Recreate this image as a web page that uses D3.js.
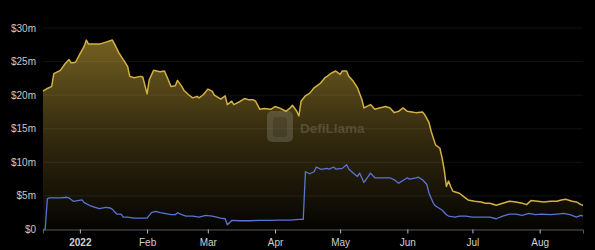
<!DOCTYPE html>
<html><head><meta charset="utf-8">
<script src="https://cdn.jsdelivr.net/npm/d3@7"></script>
<style>html,body{margin:0;padding:0;background:#000;}svg{display:block;}</style>
</head><body><svg id="c" width="595" height="250"></svg>
<script>
const goldDates = ["2021-12-15","2021-12-17","2021-12-19","2021-12-20","2021-12-23","2021-12-25","2021-12-27","2021-12-28","2021-12-30","2022-01-01","2022-01-03","2022-01-04","2022-01-05","2022-01-07","2022-01-10","2022-01-13","2022-01-16","2022-01-17","2022-01-19","2022-01-21","2022-01-23","2022-01-24","2022-01-26","2022-01-29","2022-01-30","2022-02-01","2022-02-02","2022-02-04","2022-02-07","2022-02-09","2022-02-11","2022-02-12","2022-02-14","2022-02-15","2022-02-17","2022-02-18","2022-02-20","2022-02-22","2022-02-24","2022-02-25","2022-02-27","2022-03-01","2022-03-03","2022-03-04","2022-03-07","2022-03-09","2022-03-10","2022-03-12","2022-03-13","2022-03-16","2022-03-18","2022-03-20","2022-03-22","2022-03-23","2022-03-25","2022-03-27","2022-03-30","2022-04-01","2022-04-03","2022-04-06","2022-04-08","2022-04-09","2022-04-11","2022-04-12","2022-04-13","2022-04-15","2022-04-17","2022-04-19","2022-04-22","2022-04-24","2022-04-25","2022-04-27","2022-04-29","2022-05-01","2022-05-02","2022-05-04","2022-05-05","2022-05-07","2022-05-09","2022-05-11","2022-05-12","2022-05-15","2022-05-17","2022-05-19","2022-05-22","2022-05-24","2022-05-26","2022-05-28","2022-05-30","2022-06-01","2022-06-03","2022-06-05","2022-06-08","2022-06-09","2022-06-11","2022-06-12","2022-06-14","2022-06-16","2022-06-17","2022-06-18","2022-06-19","2022-06-20","2022-06-21","2022-06-22","2022-06-25","2022-06-27","2022-06-29","2022-07-02","2022-07-05","2022-07-07","2022-07-09","2022-07-12","2022-07-15","2022-07-18","2022-07-21","2022-07-24","2022-07-26","2022-07-28","2022-07-31","2022-08-03","2022-08-06","2022-08-09","2022-08-11","2022-08-13","2022-08-16","2022-08-18","2022-08-20","2022-08-21"];
const goldValues = [20.6,21.0,21.3,23.2,23.7,24.6,25.3,24.8,24.9,26.1,27.3,28.2,27.6,27.6,27.6,27.9,28.2,27.6,26.3,25.3,24.3,22.8,22.6,22.8,22.7,20.2,22.3,23.7,23.5,23.6,22.1,21.3,21.4,22.2,21.3,20.7,20.1,19.6,19.8,19.6,20.1,20.9,20.6,20.0,19.4,19.9,18.6,19.1,18.6,19.1,19.5,19.3,19.3,19.1,17.9,18.0,17.9,18.3,18.1,17.6,18.1,18.5,17.6,16.9,19.1,19.9,20.3,21.1,21.8,22.6,22.8,23.3,23.6,23.1,23.6,23.6,22.8,22.1,21.1,19.4,18.1,18.6,17.9,18.1,18.3,18.1,17.4,17.6,18.1,17.6,17.5,17.4,17.5,17.1,15.9,14.6,12.6,12.1,10.7,8.9,6.4,7.2,6.4,5.7,5.4,4.9,4.4,4.2,4.1,3.9,3.9,3.6,3.9,4.2,4.1,3.9,3.7,4.3,4.2,4.1,4.2,4.2,4.4,4.5,4.2,4.1,3.7,3.6];

const blueDates = ["2021-12-15","2021-12-16","2021-12-17","2021-12-18","2021-12-23","2021-12-26","2021-12-27","2021-12-29","2021-12-31","2022-01-02","2022-01-03","2022-01-06","2022-01-08","2022-01-10","2022-01-13","2022-01-15","2022-01-16","2022-01-18","2022-01-20","2022-01-21","2022-01-23","2022-01-26","2022-01-29","2022-02-01","2022-02-03","2022-02-05","2022-02-07","2022-02-09","2022-02-12","2022-02-14","2022-02-15","2022-02-17","2022-02-19","2022-02-22","2022-02-25","2022-02-28","2022-03-03","2022-03-07","2022-03-09","2022-03-10","2022-03-12","2022-03-16","2022-03-20","2022-03-25","2022-03-30","2022-04-03","2022-04-08","2022-04-12","2022-04-14","2022-04-15","2022-04-17","2022-04-19","2022-04-20","2022-04-22","2022-04-23","2022-04-25","2022-04-26","2022-04-28","2022-04-29","2022-05-02","2022-05-04","2022-05-05","2022-05-07","2022-05-09","2022-05-10","2022-05-12","2022-05-14","2022-05-15","2022-05-17","2022-05-19","2022-05-21","2022-05-24","2022-05-26","2022-05-28","2022-05-30","2022-06-01","2022-06-02","2022-06-05","2022-06-06","2022-06-08","2022-06-10","2022-06-11","2022-06-13","2022-06-14","2022-06-17","2022-06-19","2022-06-20","2022-06-23","2022-06-25","2022-06-28","2022-07-01","2022-07-05","2022-07-09","2022-07-12","2022-07-15","2022-07-18","2022-07-21","2022-07-24","2022-07-27","2022-07-30","2022-08-02","2022-08-06","2022-08-09","2022-08-12","2022-08-15","2022-08-18","2022-08-20","2022-08-21"];
const blueValues = [0,0,4.6,4.7,4.7,4.8,4.7,4.2,4.3,4.4,4.0,3.5,3.3,3.1,3.3,3.2,3.0,2.3,2.3,1.85,1.85,1.7,1.7,1.7,2.5,2.7,2.5,2.4,2.2,2.2,2.5,2.2,2.0,2.0,1.85,2.1,2.0,1.7,1.6,0.7,1.35,1.3,1.3,1.35,1.35,1.4,1.4,1.5,1.5,8.6,8.3,8.6,9.3,9.0,9.0,9.1,9.0,9.3,9.0,9.1,9.65,9.0,8.4,7.9,8.4,7.0,7.9,8.4,7.7,7.7,7.7,7.7,7.4,6.9,7.3,7.7,7.5,7.7,7.8,7.4,6.7,5.4,3.9,3.5,2.9,2.2,2.0,1.85,2.0,2.0,1.85,1.85,1.85,1.6,2.0,2.3,2.3,2.1,2.4,2.2,2.3,2.2,2.3,2.4,2.2,1.85,2.1,2.0];

const yTicks = [0,5,10,15,20,25,30];
const xTickDates = ["2022-01-01","2022-02-01","2022-03-01","2022-04-01","2022-05-01","2022-06-01","2022-07-01","2022-08-01"];
const xTickLabels = ["2022","Feb","Mar","Apr","May","Jun","Jul","Aug"];

const parse = d3.utcParse("%Y-%m-%d");
const gold = goldDates.map((d,i)=>({date:parse(d), v:goldValues[i]}));
const blue = blueDates.map((d,i)=>({date:parse(d), v:blueValues[i]}));

const svg = d3.select("#c");
svg.append("rect").attr("width",595).attr("height",250).attr("fill","#000");

const x = d3.scaleUtc().domain([parse("2021-12-15"), parse("2022-08-21")]).range([43,583]);
const y = d3.scaleLinear().domain([0,30]).range([229.5,28]);

const defs = svg.append("defs");
const grad = defs.append("linearGradient").attr("id","gfill")
  .attr("gradientUnits","userSpaceOnUse").attr("x1",0).attr("x2",0).attr("y1",y(30)).attr("y2",y(0));
grad.append("stop").attr("offset","0%").attr("stop-color","#d4b03c").attr("stop-opacity",0.58);
grad.append("stop").attr("offset","50%").attr("stop-color","#d4b03c").attr("stop-opacity",0.26);
grad.append("stop").attr("offset","100%").attr("stop-color","#d4b03c").attr("stop-opacity",0.02);

svg.append("g").selectAll("line").data(yTicks.slice(1)).join("line")
  .attr("x1",43).attr("x2",583).attr("y1",d=>y(d)).attr("y2",d=>y(d))
  .attr("stroke","#ffffff").attr("stroke-opacity",0.07).attr("stroke-width",1);

svg.append("g").selectAll("text").data(yTicks).join("text")
  .attr("x",36).attr("y",d=>y(d)).attr("dy","0.35em").attr("text-anchor","end")
  .attr("fill","#c8c8c8").attr("font-family","Helvetica, Arial, 'Liberation Sans', sans-serif").attr("font-size",10)
  .text(d=> d===0 ? "$0" : "$"+d+"m");

const area = d3.area().x(d=>x(d.date)).y0(y(0)).y1(d=>y(d.v)).curve(d3.curveLinear);
const line = d3.line().x(d=>x(d.date)).y(d=>y(d.v)).curve(d3.curveLinear);
svg.append("path").datum(gold).attr("d",area).attr("fill","url(#gfill)");

const wm = svg.append("g").attr("opacity",0.2);
wm.append("rect").attr("x",267).attr("y",111).attr("width",26).attr("height",31).attr("rx",5).attr("fill","#c8c8c8");
wm.append("rect").attr("x",273).attr("y",117).attr("width",14).attr("height",20).attr("rx",3).attr("fill","#8a8a8a");
wm.append("text").attr("x",300).attr("y",133).attr("fill","#c8c8c8")
  .attr("font-family","Helvetica, Arial, 'Liberation Sans', sans-serif").attr("font-weight","bold").attr("font-size",13.5)
  .text("DefiLlama");

svg.append("path").datum(gold).attr("d",line).attr("fill","none").attr("stroke","#d2b044").attr("stroke-width",1.5).attr("stroke-linejoin","round");
svg.append("path").datum(blue).attr("d",line).attr("fill","none").attr("stroke","#5a74d2").attr("stroke-width",1.3).attr("stroke-linejoin","round");

const xa = svg.append("g").attr("transform","translate(0,229.5)")
  .call(d3.axisBottom(x).tickValues(xTickDates.map(parse)).tickSize(4).tickFormat((d,i)=>xTickLabels[i]));
xa.select(".domain").attr("stroke","#5a5a5a");
xa.selectAll(".tick line").attr("stroke","#bbbbbb");
xa.selectAll(".tick text").attr("fill","#d0d0d0").attr("font-size",10)
  .attr("font-family","Helvetica, Arial, 'Liberation Sans', sans-serif").attr("dy","0.9em")
  .attr("font-weight",(d,i)=> i===0 ? "bold" : "normal");
</script></body></html>
